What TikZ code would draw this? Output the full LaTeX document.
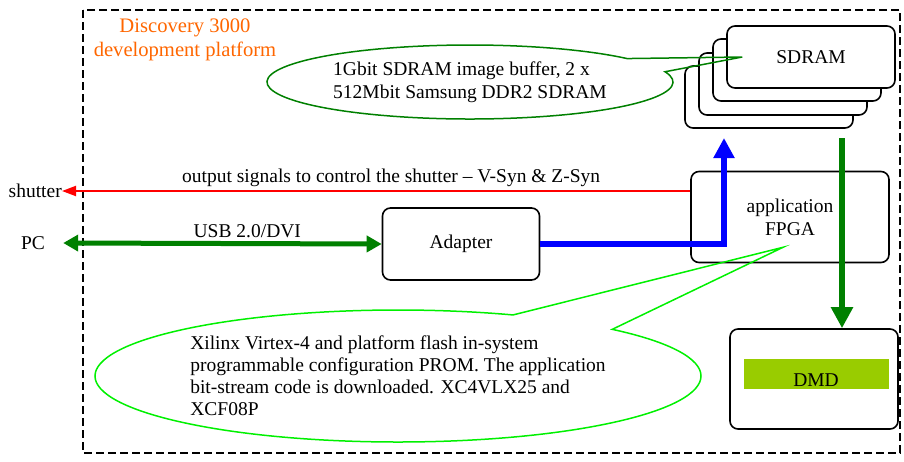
\documentclass[tikz,border=0pt]{standalone}
\usepackage{fontspec}
\setmainfont{Liberation Serif}
\usetikzlibrary{arrows.meta}
\definecolor{dkgreen}{RGB}{0,128,0}
\definecolor{ltgreen}{RGB}{0,240,0}
\definecolor{orangetxt}{RGB}{255,102,0}
\definecolor{dmdgreen}{RGB}{153,204,0}
\begin{document}
\begin{tikzpicture}[x=1pt,y=-1pt,
    font=\fontsize{19.5}{23}\selectfont,
    block/.style ={draw, line width=1.6pt, rounded corners=8pt, inner sep=0pt, fill=white},
    note/.style ={inner sep=0pt, align=left}]
   \useasboundingbox (0,0) rectangle (904,461);
   \draw[line width=1.8pt, dash pattern=on 8pt off 4pt] (83,10) rectangle (900,453);
   \node[orangetxt, align=center, font=\fontsize{20.6}{24}\selectfont] (platform) at (185,40) {Discovery 3000\\development platform};

   % SDRAM stack
   \node[block, minimum width=168pt, minimum height=62pt] (sdram4) at (769,97) {};
   \node[block, minimum width=168pt, minimum height=62pt] (sdram3) at (783,84) {};
   \node[block, minimum width=168pt, minimum height=62pt] (sdram2) at (797,70) {};
   \node[block, minimum width=168pt, minimum height=62pt] (sdram) at (811,57) {SDRAM};

   \node[block, minimum width=157pt, minimum height=72pt] (adapter) at (461,244) {Adapter};
   \node[block, minimum width=198pt, minimum height=91pt, align=center] (fpga) at (790,217) {application\\FPGA};
   \node[block, minimum width=168pt, minimum height=100pt] (dmdbox) at (814,379) {};
   \node[fill=dmdgreen, minimum width=145pt, minimum height=30pt, inner sep=0pt,
     text height=24pt, text depth=0pt] (dmd) at (816,374) {DMD};

   \node[anchor=east, inner sep=0pt] (shutter) at (62,191) {shutter};
   \node[minimum width=60pt, inner sep=0pt] (pc) at (33,243) {PC};
   \coordinate (sdramin) at (724,138);
   \coordinate (sdramout) at (842,138);

   % callouts
   \node[note] (buffernote) at (470,82) {1Gbit SDRAM image buffer, 2 x\\512Mbit Samsung DDR2 SDRAM};
   \draw[dkgreen, line width=1.5pt] (buffernote.center) ++(16.1:203pt and 37pt)
     arc[start angle=16.1, end angle=-320.7, x radius=203pt, y radius=37pt]
     -- ([xshift=16pt]sdram.west) -- cycle;
   \node[note, font=\fontsize{19.5}{22}\selectfont] (fpganote) at (398,376) {Xilinx Virtex-4 and platform flash in-system\\programmable configuration PROM. The application\\bit-stream code is downloaded. XC4VLX25 and\\XCF08P};
   \draw[ltgreen, line width=1.5pt] (fpganote.center) ++(45:303pt and 66pt)
     arc[start angle=45, end angle=-292.3, x radius=303pt, y radius=66pt]
     -- ([xshift=-7pt,yshift=16pt]fpga.south) -- cycle;

   % connectors
   \draw[-{Triangle[length=14pt,width=10pt]}, red, line width=2pt] (fpga.west |- shutter.east) to
     node[pos=0.476, above, black, inner sep=3pt] {output signals to control the shutter – V-Syn \& Z-Syn} (shutter.east);
   \draw[{Triangle[length=15pt,width=16pt]}-{Triangle[length=15pt,width=16pt]}, dkgreen, line width=5pt] (pc.east) to
     node[pos=0.578, above, black, inner sep=3pt] {USB 2.0/DVI} (adapter.west);
   \draw[-{Triangle[length=20pt,width=20pt]}, blue, line width=6pt] (adapter.east) -| (sdramin);
   \draw[-{Triangle[length=21pt,width=21pt]}, dkgreen, line width=6.5pt] (sdramout) to (sdramout |- dmdbox.north);
 \end{tikzpicture}
\end{document}
